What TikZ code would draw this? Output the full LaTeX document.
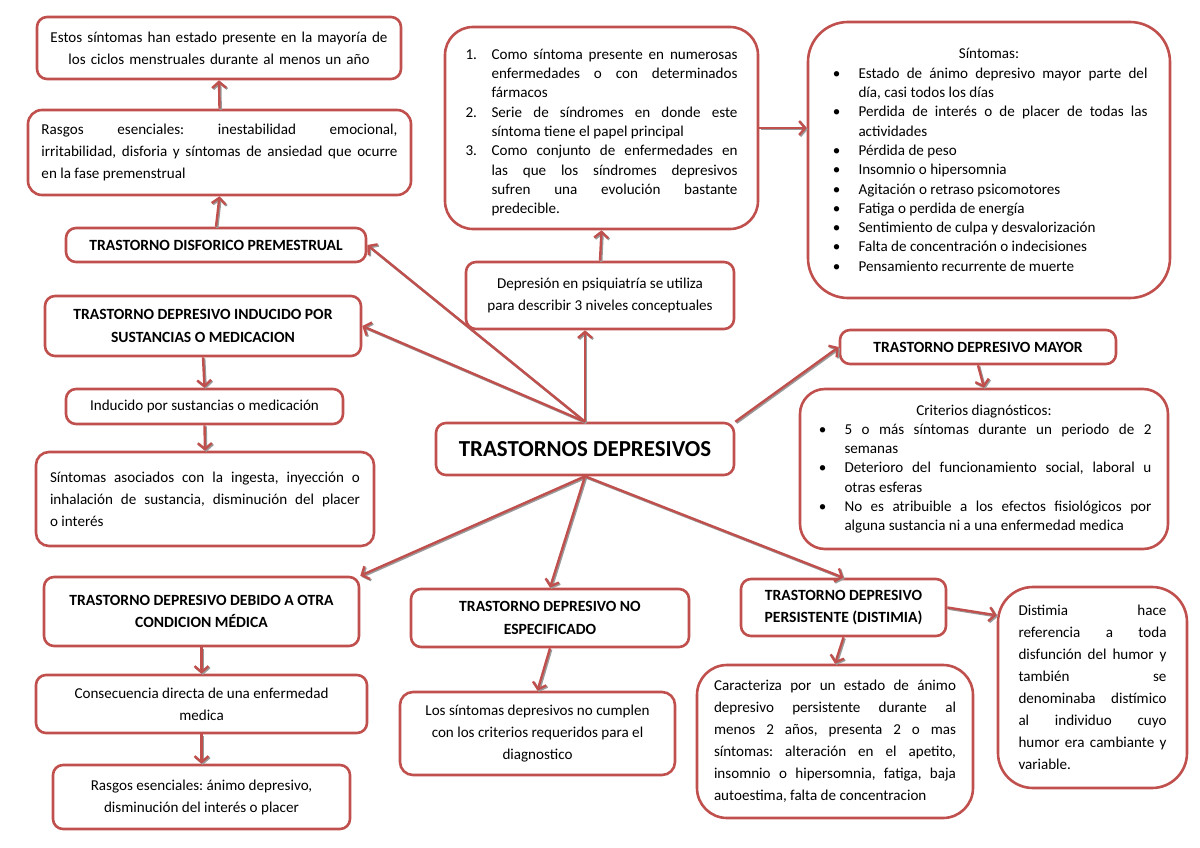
\documentclass[tikz,border=0pt]{standalone}
\usepackage{fontspec}
\setmainfont{Carlito}
\usepackage{enumitem}
\usetikzlibrary{arrows.meta}
\definecolor{MapRed}{HTML}{C0504D}
\definecolor{ShadowGray}{HTML}{9A9A9A}
\newcommand{\bodyfont}{\fontsize{15.1}{22}\selectfont}
\newcommand{\listfont}{\fontsize{15.1}{19.3}\selectfont}
\setlist{topsep=0pt, partopsep=0pt, itemsep=0pt, parsep=0pt}
\hyphenpenalty=10000
\frenchspacing
\begin{document}
\begin{tikzpicture}[x=1pt, y=-1pt,
  box/.style={draw=MapRed, line width=2.6pt, fill=white, rounded corners=10pt, inner sep=0pt, align=center, font=\bodyfont},
  headbox/.style={box, font=\bfseries\fontsize{15.6}{22.5}\selectfont},
  link/.style={draw=MapRed, line width=2.4pt, -{Straight Barb[length=6pt,width=14pt]},
    preaction={draw=ShadowGray, line width=2.4pt, transform canvas={shift={(1.2pt,-1.2pt)}}}}]
\useasboundingbox (0,0) rectangle (1200,848);

% Centre
\node[box, minimum width=298pt, minimum height=52pt, font=\bfseries\fontsize{22.9}{26}\selectfont] (cen) at (585,449) {TRASTORNOS DEPRESIVOS};

% Left column: premenstrual
\node[box, minimum width=364pt, minimum height=62pt, text width=350pt] (est) at (219,48)
  {Estos síntomas han estado presente en la mayoría de\\los ciclos menstruales durante al menos un año};
\node[box, minimum width=383pt, minimum height=85pt, text width=356pt, align=justify, rounded corners=14pt] (ras) at (219.5,152.5)
  {Rasgos esenciales: inestabilidad emocional,\linebreak irritabilidad, disforia y síntomas de ansiedad que ocurre\linebreak en la fase premenstrual};
\node[headbox, minimum width=300pt, minimum height=34pt] (dis) at (216,245) {TRASTORNO DISFORICO PREMESTRUAL};

% Left column: sustancias
\node[headbox, minimum width=316pt, minimum height=60pt] (ind) at (203,326)
  {TRASTORNO DEPRESIVO INDUCIDO POR\\SUSTANCIAS O MEDICACION};
\node[box, minimum width=277pt, minimum height=35pt] (inds) at (204.5,406.5) {Inducido por sustancias o medicación};
\node[box, minimum width=338pt, minimum height=94pt, text width=310pt, align=justify, rounded corners=13pt] (sas) at (205,499)
  {Síntomas asociados con la ingesta, inyección o\linebreak inhalación de sustancia, disminución del placer\linebreak o interés};

% Left column: otra condicion
\node[headbox, minimum width=315pt, minimum height=69pt] (deb) at (201.5,611.5)
  {TRASTORNO DEPRESIVO DEBIDO A OTRA\\CONDICION MÉDICA};
\node[box, minimum width=331pt, minimum height=58pt] (con) at (201.5,704)
  {Consecuencia directa de una enfermedad\\medica};
\node[box, minimum width=297pt, minimum height=64pt] (rasb) at (201.5,797)
  {Rasgos esenciales: ánimo depresivo,\\disminución del interés o placer};

% Middle column
\node[box, minimum width=313pt, minimum height=202pt, text width=272pt, align=justify, rounded corners=28pt, font=\listfont] (niv) at (601.5,128)
  {\begin{enumerate}[leftmargin=26pt, labelsep=10pt, labelwidth=16pt, align=left]
   \item Como síntoma presente en numerosas\linebreak enfermedades o con determinados\linebreak fármacos
   \item Serie de síndromes en donde este\linebreak síntoma tiene el papel principal
   \item Como conjunto de enfermedades en\linebreak las que los síndromes depresivos\linebreak sufren una evolución bastante\linebreak predecible.
   \end{enumerate}};
\node[box, minimum width=268pt, minimum height=67pt] (psi) at (600,295.5)
  {Depresión en psiquiatría se utiliza\\para describir 3 niveles conceptuales};
\node[headbox, minimum width=278pt, minimum height=58pt] (noe) at (550,618)
  {TRASTORNO DEPRESIVO NO\\ESPECIFICADO};
\node[box, minimum width=275pt, minimum height=83pt, rounded corners=13pt] (nocu) at (537.5,733.5)
  {Los síntomas depresivos no cumplen\\con los criterios requeridos para el\\diagnostico};

% Right column
\node[box, minimum width=362pt, minimum height=276pt, text width=317pt, align=justify, rounded corners=40pt, font=\listfont] (sin) at (989,160)
  {\centerline{Síntomas:}
   \begin{itemize}[leftmargin=28pt, labelsep=18pt]
   \item Estado de ánimo depresivo mayor parte del\linebreak día, casi todos los días
   \item Perdida de interés o de placer de todas las\linebreak actividades
   \item Pérdida de peso
   \item Insomnio o hipersomnia
   \item Agitación o retraso psicomotores
   \item Fatiga o perdida de energía
   \item Sentimiento de culpa y desvalorización
   \item Falta de concentración o indecisiones
   \item Pensamiento recurrente de muerte
   \end{itemize}};
\node[headbox, minimum width=276pt, minimum height=34pt] (may) at (978,347) {TRASTORNO DEPRESIVO MAYOR};
\node[box, minimum width=368pt, minimum height=160pt, text width=335pt, align=justify, rounded corners=25pt, font=\listfont] (cri) at (984,469)
  {\centerline{Criterios diagnósticos:}
   \begin{itemize}[leftmargin=28pt, labelsep=18pt]
   \item 5 o más síntomas durante un periodo de 2\linebreak semanas
   \item Deterioro del funcionamiento social, laboral u\linebreak otras esferas
   \item No es atribuible a los efectos fisiológicos por\linebreak alguna sustancia ni a una enfermedad medica
   \end{itemize}};
\node[headbox, minimum width=205pt, minimum height=57pt] (per) at (843.5,607.5)
  {TRASTORNO DEPRESIVO\\PERSISTENTE (DISTIMIA)};
\node[box, minimum width=276pt, minimum height=153pt, text width=242pt, align=justify, rounded corners=30pt] (car) at (835,741.5)
  {Caracteriza por un estado de ánimo\linebreak depresivo persistente durante al\linebreak menos 2 años, presenta 2 o mas\linebreak síntomas: alteración en el apetito,\linebreak insomnio o hipersomnia, fatiga, baja\linebreak autoestima, falta de concentracion};
\node[box, minimum width=189pt, minimum height=201pt, text width=148pt, align=justify, rounded corners=35pt] (dist) at (1092.5,687.5)
  {Distimia hace\linebreak referencia a toda\linebreak disfunción del humor y\linebreak también se\linebreak denominaba distímico\linebreak al individuo cuyo\linebreak humor era cambiante y\linebreak variable.};

% Links from the centre
\draw[link] (cen.north) -- (dis.east);
\draw[link] (cen.north) -- (ind.east);
\draw[link] (cen.north) -- (cen.north |- psi.south);
\draw[link] (cen.north east) -- (may.west);
\draw[link] (cen.south) -- (deb.north east);
\draw[link] (cen.south) -- (noe.north);
\draw[link] (cen.south) -- (per.north);

% Links inside each branch
\foreach \a/\b in {dis.north/ras.south, ras.north/est.south, psi.north/niv.south, may.south/cri.north,
                   ind.south/inds.north, inds.south/sas.north, deb.south/con.north, con.south/rasb.north,
                   noe.south/nocu.north, per.south/car.north, per.east/dist.143} {
  \draw[link] (\a) -- (\b);
}
\draw[link] (niv.east) -- (niv.east -| sin.west);
\end{tikzpicture}
\end{document}
